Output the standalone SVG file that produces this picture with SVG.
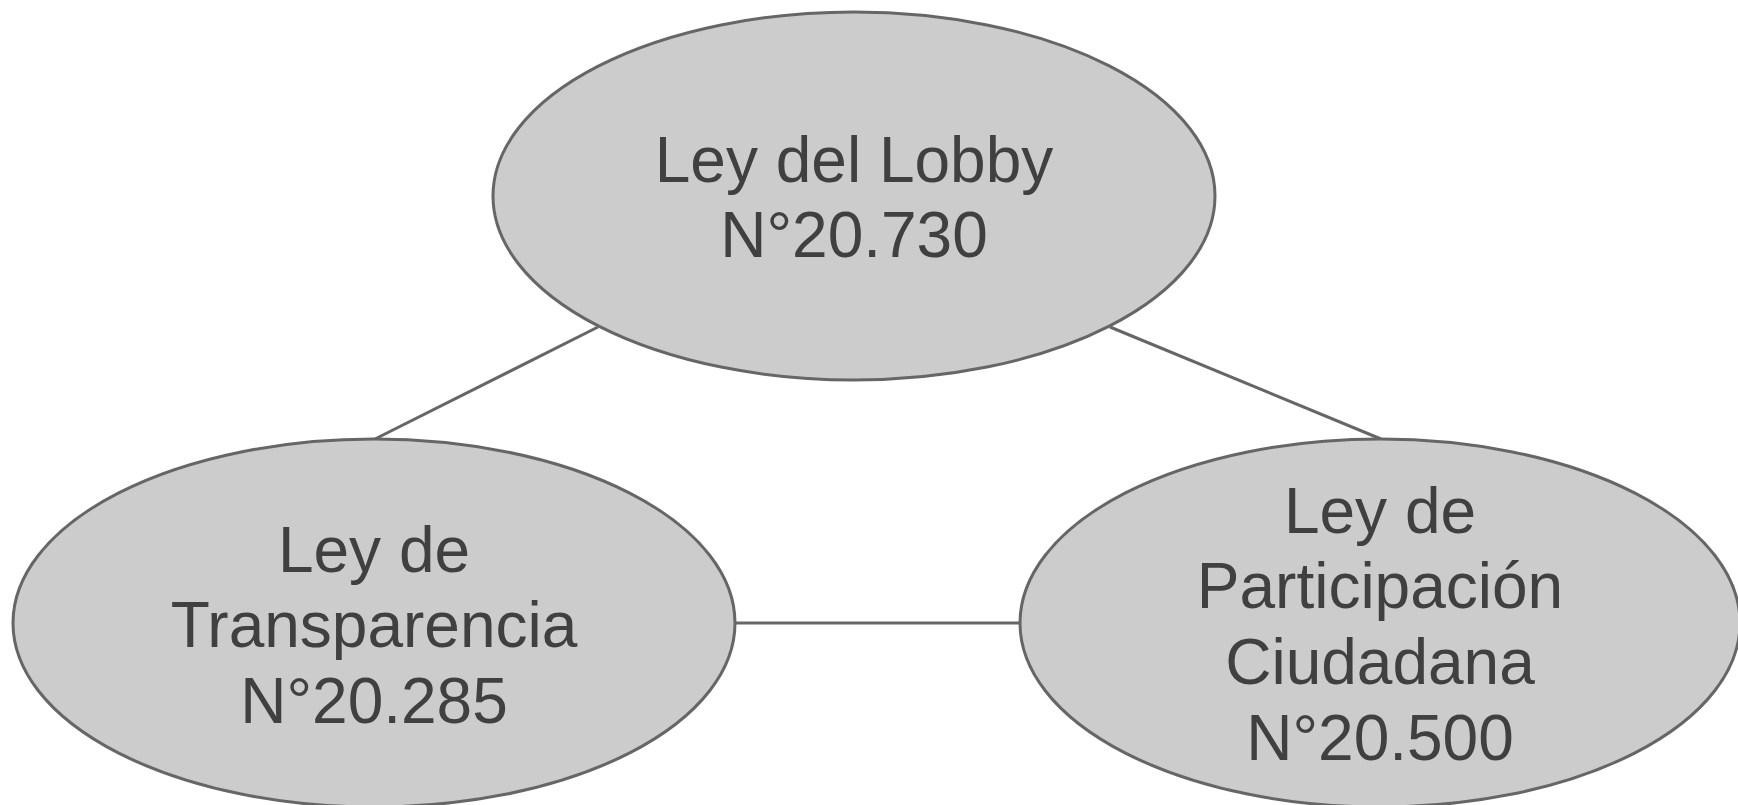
<svg xmlns="http://www.w3.org/2000/svg" width="1738" height="805" viewBox="0 0 1738 805">
<style>
.node{fill:#cccccc;stroke:#666666;stroke-width:3}
.edge{stroke:#666666;stroke-width:3;fill:none}
text{font-family:"Liberation Sans",Arial,sans-serif;font-size:64px;fill:#404040;text-anchor:middle}
</style>
<rect width="1738" height="805" fill="#ffffff"/>
<g id="connectors">
<line class="edge" x1="598" y1="327" x2="375" y2="439"/>
<line class="edge" x1="1110" y1="327" x2="1381" y2="439"/>
<line class="edge" x1="735" y1="623" x2="1020" y2="623"/>
</g>
<g id="lobby">
<ellipse class="node" cx="854" cy="196" rx="361" ry="184"/>
<text x="854" y="182">Ley del Lobby</text>
<text x="854" y="257">N°20.730</text>
</g>
<g id="transparencia">
<ellipse class="node" cx="374" cy="623" rx="361" ry="184"/>
<text x="374" y="572">Ley de</text>
<text x="374" y="647">Transparencia</text>
<text x="374" y="723">N°20.285</text>
</g>
<g id="participacion">
<ellipse class="node" cx="1380" cy="623" rx="360" ry="184"/>
<text x="1380" y="533">Ley de</text>
<text x="1380" y="608">Participación</text>
<text x="1380" y="684">Ciudadana</text>
<text x="1380" y="760">N°20.500</text>
</g>
</svg>
